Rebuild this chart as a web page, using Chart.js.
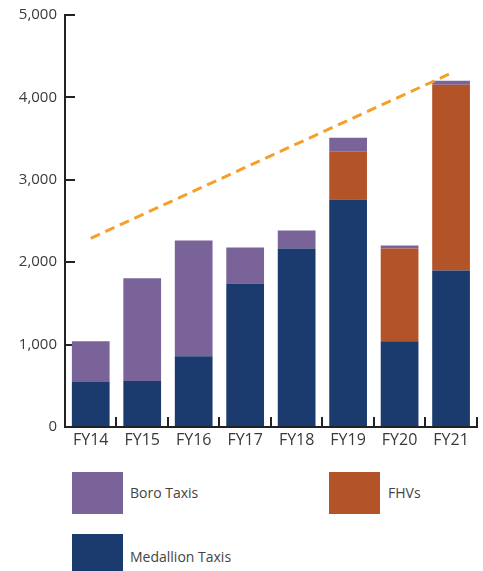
<!DOCTYPE html>
<html>
<head>
<meta charset="utf-8">
<script src="https://cdn.jsdelivr.net/npm/chart.js@4/dist/chart.umd.min.js"></script>
<style>
  body { margin: 0; background: #fff; font-family: "Open Sans", sans-serif; }
  #wrap { position: relative; width: 483px; height: 571px; overflow: hidden; }
  #chart { position: absolute; left: 0; top: -12px; }
  .key { position: absolute; width: 51px; height: 42px; }
  .lab { position: absolute; font-size: 14px; color: #444; line-height: 18px; }
</style>
</head>
<body>
<div id="wrap">
  <canvas id="chart" width="483" height="472"></canvas>
  <div class="key" style="left:72px;top:472px;background:#7a6399"></div>
  <div class="lab" style="left:130px;top:484px">Boro Taxis</div>
  <div class="key" style="left:329px;top:472px;background:#b25328"></div>
  <div class="lab" style="left:388px;top:484px">FHVs</div>
  <div class="key" style="left:72px;top:534px;height:40px;background:#1b3a6d"></div>
  <div class="lab" style="left:130px;top:548px">Medallion Taxis</div>
</div>
<script>
const years = ['FY14', 'FY15', 'FY16', 'FY17', 'FY18', 'FY19', 'FY20', 'FY21'];
const medallion = [545, 557, 860, 1743, 2167, 2760, 1041, 1900];
const fhvs = [0, 0, 0, 0, 0, 581, 1126, 2253];
const boro = [496, 1247, 1404, 436, 218, 170, 36, 48];
const trend = [2290, null, null, null, null, null, null, 4294];
const yTicks = [0, 1000, 2000, 3000, 4000, 5000];

const axisColor = '#222';
const textColor = '#3a3a3a';

new Chart(document.getElementById('chart'), {
    data: {
        labels: years,
        datasets: [
            {
                type: 'line',
                label: 'Trend',
                data: trend,
                spanGaps: true,
                borderColor: '#f5a02a',
                borderWidth: 3,
                borderDash: [10, 6],
                pointRadius: 0,
                order: 0,
            },
            { type: 'bar', label: 'Medallion Taxis', data: medallion, backgroundColor: '#1b3a6d', order: 1 },
            { type: 'bar', label: 'FHVs', data: fhvs, backgroundColor: '#b25328', order: 1 },
            { type: 'bar', label: 'Boro Taxis', data: boro, backgroundColor: '#7a6399', order: 1 },
        ],
    },
    options: {
        responsive: false,
        animation: false,
        layout: { padding: { top: 3, right: 3, left: 0, bottom: 0 } },
        datasets: { bar: { barPercentage: 0.733, categoryPercentage: 1 } },
        plugins: { legend: { display: false }, tooltip: { enabled: false } },
        scales: {
            x: {
                stacked: true,
                border: { color: axisColor, width: 2 },
                grid: { drawOnChartArea: false, tickLength: -10, color: axisColor, lineWidth: 2, offset: true },
                ticks: { color: textColor, font: { family: 'Open Sans', size: 16 }, padding: 14 },
                afterFit: (scale) => { scale.height = 33; },
            },
            y: {
                stacked: true,
                min: 0,
                max: 5000,
                afterBuildTicks: (scale) => { scale.ticks = yTicks.map(v => ({ value: v })); },
                border: { color: axisColor, width: 2 },
                grid: { drawOnChartArea: false, tickLength: -10, color: axisColor, lineWidth: 2 },
                ticks: {
                    color: textColor,
                    font: { family: 'Open Sans', size: 15 },
                    padding: 18,
                    callback: (v) => v.toLocaleString('en-US'),
                },
                afterFit: (scale) => { scale.width = 65; },
            },
        },
    },
});
</script>
</body>
</html>
